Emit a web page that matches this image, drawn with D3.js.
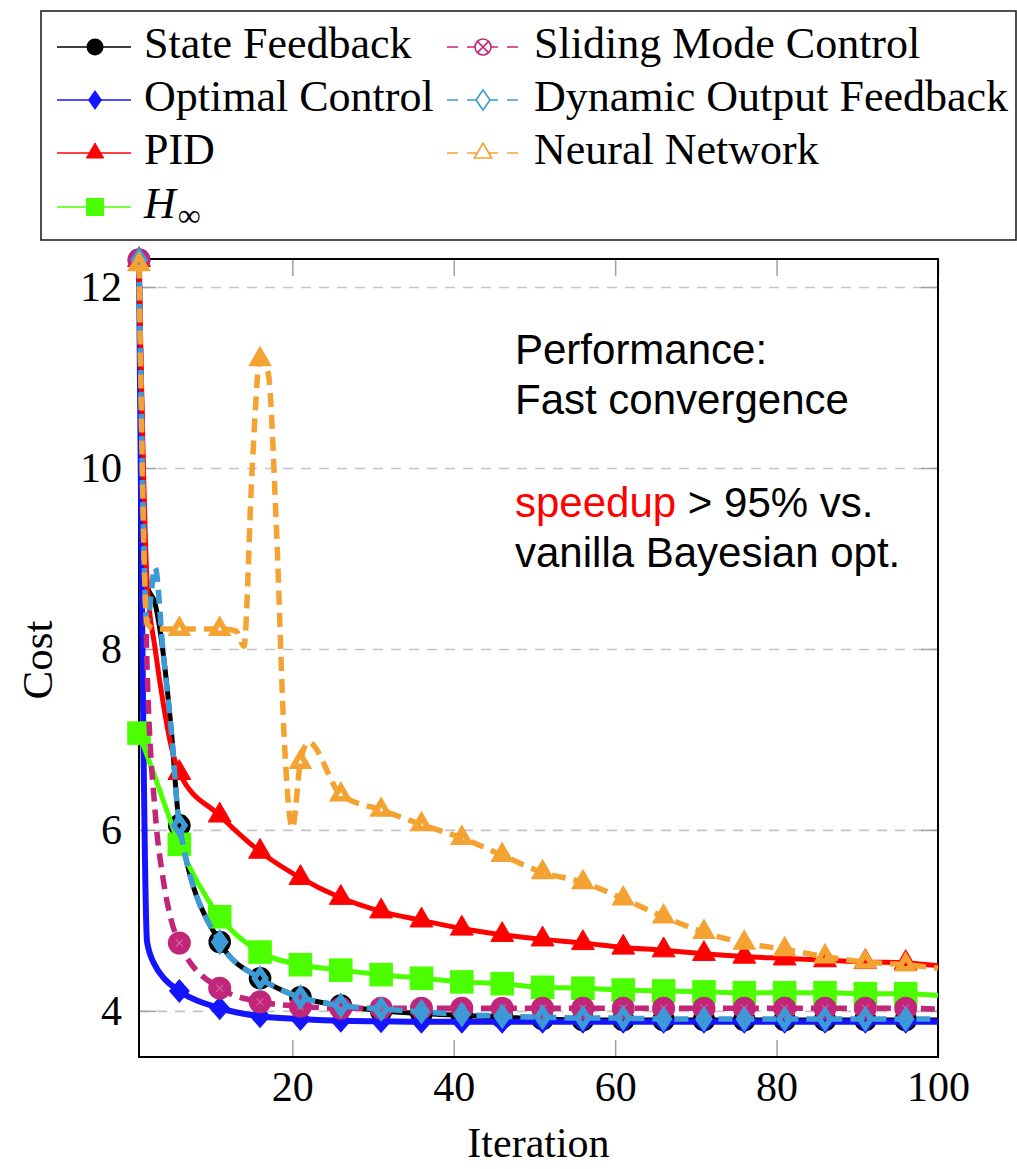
<!DOCTYPE html>
<html><head><meta charset="utf-8">
<script src="https://cdn.jsdelivr.net/npm/d3@7"></script>
<style>body{margin:0;background:#fff}</style>
</head><body>
<svg id="chart" width="1017" height="1169"></svg>
<script>
// ---------- data ----------
const iterTicks = [20, 40, 60, 80, 100];
const costTicks = [4, 6, 8, 10, 12];

const sfIter = [1,2,3,4,5,6,11,16,21,26,31,36,41,46,51,56,61,66,71,76,81,86,91,96,100];
const sfCost = [12.3,8.7,8.5,7.95,7.1,6.05,4.76,4.36,4.15,4.06,4.0,3.97,3.95,3.93,3.91,3.9,3.9,3.9,3.9,3.9,3.9,3.9,3.9,3.9,3.9];

const ocIter = [1,2,3,4,6,11,16,21,26,31,36,41,46,51,56,61,66,71,76,81,86,91,96,100];
const ocCost = [12.3,4.76,4.5,4.37,4.22,4.03,3.94,3.91,3.89,3.885,3.88,3.88,3.88,3.88,3.88,3.88,3.88,3.88,3.88,3.88,3.88,3.88,3.88,3.88];

const pidIter = [1,2,3,4,5,6,11,16,21,26,31,36,41,46,51,56,61,66,71,76,81,86,91,96,100];
const pidCost = [12.3,8.75,8.0,7.4,6.92,6.63,6.16,5.76,5.47,5.25,5.1,5.0,4.91,4.84,4.79,4.75,4.70,4.67,4.63,4.60,4.58,4.56,4.54,4.53,4.50];

const hinfIter = [1,3,6,11,16,21,26,31,36,41,46,51,56,61,66,71,76,81,86,91,96,100];
const hinfCost = [7.07,6.58,5.84,5.04,4.65,4.51,4.45,4.40,4.36,4.32,4.30,4.26,4.25,4.23,4.22,4.21,4.20,4.20,4.20,4.19,4.19,4.17];

const smcIter = [1,2,3,4,5,6,11,16,21,26,31,36,41,46,51,56,61,66,71,76,81,86,91,96,100];
const smcCost = [12.3,7.8,6.2,5.45,5.0,4.75,4.25,4.1,4.05,4.03,4.03,4.03,4.03,4.03,4.03,4.03,4.03,4.03,4.03,4.03,4.03,4.03,4.03,4.03,4.02];

const dofIter = [1,2,3,4,5,6,11,16,21,26,31,36,41,46,51,56,61,66,71,76,81,86,91,96,100];
const dofCost = [12.3,8.3,8.9,7.95,7.1,6.05,4.76,4.36,4.15,4.06,4.02,3.99,3.96,3.94,3.93,3.92,3.92,3.91,3.91,3.91,3.91,3.91,3.91,3.91,3.91];

const nnIter = [1,2,3,6,11,13,14,15,16,17,18,19,20,21,22,26,31,36,41,46,51,56,61,66,71,76,81,86,91,96,100];
const nnCost = [12.25,8.28,8.22,8.22,8.22,8.2,8.03,9.95,11.2,11.05,9.4,7.0,6.02,6.75,6.97,6.39,6.22,6.06,5.91,5.72,5.53,5.42,5.24,5.04,4.87,4.75,4.68,4.60,4.54,4.51,4.47];

const seriesNames = ["State Feedback","Optimal Control","PID","H∞","Sliding Mode Control","Dynamic Output Feedback","Neural Network"];

// ---------- styles ----------
const SERIF = "'Liberation Serif','Times New Roman',serif";
const SANS = "'Liberation Sans',Arial,sans-serif";
const styles = [
  {iter: sfIter, cost: sfCost, color: "#000000", width: 5, dash: null, mark: "circleFill"},
  {iter: ocIter, cost: ocCost, color: "#1414ff", width: 6, dash: null, mark: "diamondFill"},
  {iter: pidIter, cost: pidCost, color: "#ff0000", width: 5, dash: null, mark: "triFill"},
  {iter: hinfIter, cost: hinfCost, color: "#4cff00", width: 5, dash: null, mark: "square"},
  {iter: smcIter, cost: smcCost, color: "#c2267b", width: 5.5, dash: "14,8", mark: "otimes"},
  {iter: dofIter, cost: dofCost, color: "#3c9bd6", width: 5.5, dash: "14,8", mark: "diamondOpen"},
  {iter: nnIter, cost: nnCost, color: "#f4a232", width: 5.5, dash: "14,8", mark: "triOpen"}
];

const svg = d3.select("#chart");
const L = 139, R = 938, T = 259, B = 1057;
const x = d3.scaleLinear().domain([1, 100]).range([L, R]);
const y = d3.scaleLinear().domain([3.49, 12.31]).range([B, T]);

// grid
const grid = svg.append("g").attr("transform", `translate(${L},0)`)
  .call(d3.axisLeft(y).tickValues(costTicks).tickSize(-(R - L)).tickFormat(""));
grid.select(".domain").remove();
grid.selectAll("line").attr("stroke", "#c4c4c4").attr("stroke-width", 1.6).attr("stroke-dasharray", "10,8");

// ticks (inside)
const tickColor = "#a0a0a0";
const axL = svg.append("g").attr("transform", `translate(${L},0)`)
  .call(d3.axisLeft(y).tickValues(costTicks).tickSize(-17).tickPadding(17));
const axR = svg.append("g").attr("transform", `translate(${R},0)`)
  .call(d3.axisRight(y).tickValues(costTicks).tickSize(-17).tickFormat(""));
const axB = svg.append("g").attr("transform", `translate(0,${B})`)
  .call(d3.axisBottom(x).tickValues(iterTicks).tickSize(-17).tickPadding(14));
const axT = svg.append("g").attr("transform", `translate(0,${T})`)
  .call(d3.axisTop(x).tickValues(iterTicks).tickSize(-17).tickFormat(""));
[axL, axR, axB, axT].forEach(a => {
  a.select(".domain").remove();
  a.selectAll("line").attr("stroke", tickColor).attr("stroke-width", 1.5);
  a.selectAll("text").attr("font-family", SERIF).attr("font-size", 42).attr("fill", "#000");
});

// frame
svg.append("rect").attr("x", L).attr("y", T).attr("width", R - L).attr("height", B - T)
  .attr("fill", "none").attr("stroke", "#000").attr("stroke-width", 2);

// axis titles
svg.append("text").attr("x", (L + R) / 2).attr("y", 1157).attr("text-anchor", "middle")
  .attr("font-family", SERIF).attr("font-size", 42).text("Iteration");
svg.append("text").attr("transform", "translate(52,660) rotate(-90)").attr("text-anchor", "middle")
  .attr("font-family", SERIF).attr("font-size", 43).text("Cost");

// marker drawing
function tri(r) { return `M0,${-r}L${r*0.866},${r/2}L${-r*0.866},${r/2}Z`; }
function dia(hw, hh) { return `M0,${-hh}L${hw},0L0,${hh}L${-hw},0Z`; }
function drawMark(g, type, cx, cy, color, legend) {
  const m = g.append("g").attr("transform", `translate(${cx},${cy})`);
  if (type === "circleFill") {
    m.append("circle").attr("r", legend ? 8.5 : 11.3).attr("fill", color);
  } else if (type === "diamondFill") {
    m.append("path").attr("d", legend ? dia(7, 10) : dia(10.5, 12)).attr("fill", color);
  } else if (type === "triFill") {
    m.append("path").attr("d", legend ? tri(10) : tri(13.2)).attr("fill", color)
      .attr("stroke", color).attr("stroke-width", 1).attr("stroke-linejoin", "round");
  } else if (type === "square") {
    const h = legend ? 9 : 11.8;
    m.append("rect").attr("x", -h).attr("y", -h).attr("width", 2 * h).attr("height", 2 * h).attr("fill", color);
  } else if (type === "otimes") {
    if (legend) {
      m.append("circle").attr("r", 8).attr("fill", "#fff").attr("stroke", color).attr("stroke-width", 1.6);
      m.append("path").attr("d", "M-5.6,-5.6L5.6,5.6M-5.6,5.6L5.6,-5.6").attr("stroke", color).attr("stroke-width", 1.6);
    } else {
      m.append("circle").attr("r", 9).attr("fill", color).attr("stroke", color).attr("stroke-width", 5);
      m.append("path").attr("d", "M-3.5,-3.5L3.5,3.5M-3.5,3.5L3.5,-3.5").attr("stroke", "#d463a2").attr("stroke-width", 1.1);
    }
  } else if (type === "diamondOpen") {
    if (legend) m.append("path").attr("d", dia(7, 10)).attr("fill", "#fff").attr("stroke", color).attr("stroke-width", 1.6);
    else m.append("path").attr("d", dia(5.6, 8.2)).attr("fill", "none").attr("stroke", color).attr("stroke-width", 5.5);
  } else if (type === "triOpen") {
    if (legend) m.append("path").attr("d", tri(10)).attr("fill", "#fff").attr("stroke", color).attr("stroke-width", 1.6);
    else m.append("path").attr("d", tri(8.2)).attr("fill", "none").attr("stroke", color).attr("stroke-width", 5.5);
  }
}

// series
const line = d3.line().x(d => x(d[0])).y(d => y(d[1])).curve(d3.curveMonotoneX);
styles.forEach(s => {
  const pts = s.iter.map((it, i) => [it, s.cost[i]]);
  const g = svg.append("g");
  g.append("path").attr("d", line(pts)).attr("fill", "none").attr("stroke", s.color)
    .attr("stroke-width", s.width).attr("stroke-dasharray", s.dash).attr("stroke-linejoin", "round");
  pts.filter(p => (p[0] - 1) % 5 === 0).forEach(p => drawMark(g, s.mark, x(p[0]), y(p[1]), s.color, false));
});

// annotation
const ann = svg.append("g").attr("font-family", SANS).attr("font-size", 42).attr("fill", "#000");
ann.append("text").attr("x", 515).attr("y", 364).text("Performance:");
ann.append("text").attr("x", 515).attr("y", 414).text("Fast convergence");
const t3 = ann.append("text").attr("x", 515).attr("y", 517);
t3.append("tspan").attr("fill", "#ff0000").text("speedup");
t3.append("tspan").text(" > 95% vs.");
ann.append("text").attr("x", 515).attr("y", 567).text("vanilla Bayesian opt.");

// legend
const leg = svg.append("g");
leg.append("rect").attr("x", 41).attr("y", 11).attr("width", 975).attr("height", 229)
  .attr("fill", "#fff").attr("stroke", "#222").attr("stroke-width", 1.6);
const rowY = [47, 100, 153, 207];
styles.forEach((s, i) => {
  const col = i < 4 ? 0 : 1;
  const row = i < 4 ? i : i - 4;
  const cy = rowY[row];
  const x0 = col === 0 ? 57 : 447, x1 = col === 0 ? 131 : 521, mx = col === 0 ? 95 : 483, tx = col === 0 ? 144 : 534;
  leg.append("line").attr("x1", x0).attr("x2", x1).attr("y1", cy).attr("y2", cy)
    .attr("stroke", s.color).attr("stroke-width", 1.6).attr("stroke-dasharray", s.dash ? "11,9" : null);
  drawMark(leg, s.mark, mx, cy, s.color, true);
  const t = leg.append("text").attr("x", tx).attr("y", cy + 11).attr("font-family", SERIF).attr("font-size", 44);
  if (seriesNames[i] === "H∞") {
    t.append("tspan").attr("font-style", "italic").text("H");
    t.append("tspan").attr("font-size", 32).attr("dy", 8).attr("dx", 2).text("∞");
  } else {
    t.text(seriesNames[i]);
  }
});
</script>
</body></html>
